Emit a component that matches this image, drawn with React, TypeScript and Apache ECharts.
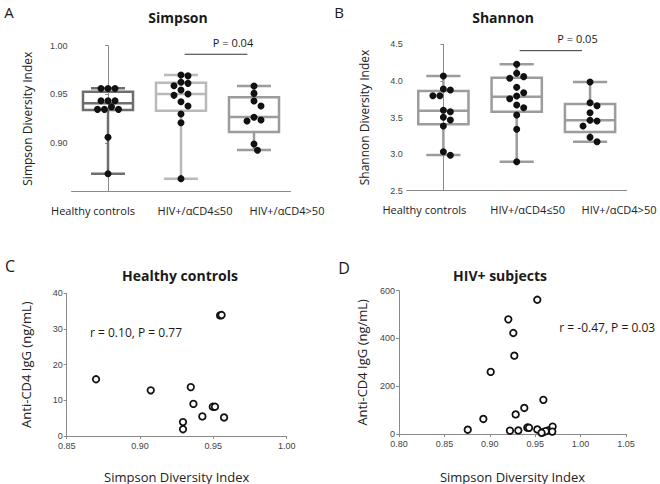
import React, { useEffect, useRef } from "react";
import * as echarts from "echarts";

const categories = ["Healthy controls", "HIV+/αCD4≤50", "HIV+/αCD4>50"];

// Panel A – Simpson diversity index per group
const simpsonHealthy = [0.956, 0.956, 0.956, 0.9435, 0.9435, 0.9435, 0.9373, 0.9346, 0.9346, 0.9346, 0.906, 0.8685];
const simpsonLow = [0.9699, 0.969, 0.9624, 0.9613, 0.9589, 0.9545, 0.9504, 0.949, 0.9425, 0.938, 0.9298, 0.9209, 0.8634];
const simpsonHigh = [0.9586, 0.951, 0.9432, 0.938, 0.9264, 0.9237, 0.9226, 0.899, 0.8925];
// [min, Q1, median, Q3, max]
const simpsonBoxHealthy = [0.8685, 0.934, 0.9408, 0.9527, 0.9562];
const simpsonBoxLow = [0.8634, 0.9332, 0.9504, 0.962, 0.9699];
const simpsonBoxHigh = [0.8928, 0.9113, 0.9267, 0.947, 0.9586];

// Panel B – Shannon diversity index per group
const shannonHealthy = [4.067, 3.889, 3.876, 3.798, 3.798, 3.598, 3.579, 3.503, 3.466, 3.384, 3.033, 2.984];
const shannonLow = [4.227, 4.104, 4.058, 4.036, 3.912, 3.839, 3.794, 3.757, 3.671, 3.634, 3.534, 3.339, 2.896];
const shannonHigh = [3.985, 3.702, 3.661, 3.566, 3.462, 3.452, 3.384, 3.229, 3.169];
const shannonBoxHealthy = [2.988, 3.407, 3.593, 3.862, 4.067];
const shannonBoxLow = [2.896, 3.579, 3.784, 4.044, 4.227];
const shannonBoxHigh = [3.169, 3.302, 3.462, 3.684, 3.985];

// Significance brackets: [fromCategory, toCategory, level]
const bracketA = [1.05, 1.91, 0.9912];
const bracketB = [1.04, 1.89, 4.413];

// Panel C – healthy controls
const healthySimpson = [0.87, 0.9073, 0.9346, 0.9364, 0.9425, 0.9496, 0.9511, 0.9573, 0.9293, 0.9293, 0.9546, 0.9556];
const healthyAntiCD4 = [15.9, 12.8, 13.7, 9.0, 5.5, 8.2, 8.2, 5.2, 3.9, 1.9, 33.8, 33.9];

// Panel D – HIV+ subjects
const hivSimpson = [0.9523, 0.9204, 0.9259, 0.927, 0.901, 0.959, 0.938, 0.9285, 0.8929, 0.8757, 0.9222, 0.9314, 0.9413, 0.9432, 0.9523, 0.959, 0.9644, 0.9692, 0.9688, 0.9615, 0.957];
const hivAntiCD4 = [562, 480, 423, 328, 260, 143, 109, 82, 63, 18, 14, 15, 27, 26, 19, 8, 15, 31, 10, 12, 5];

const yTicksA = [0.85, 0.9, 0.95, 1.0];
const yTicksB = [2.5, 3.0, 3.5, 4.0, 4.5];

const FONT = "'Open Sans', 'Noto Sans', sans-serif";
const TICKFONT = "'Liberation Sans', Arial, sans-serif";
const AXIS = "#8a8a8a";

const gridA = { left: 71.5, top: 45.7, width: 219, height: 146 };
const gridB = { left: 406.7, top: 44.3, width: 220, height: 146.4 };
const gridC = { left: 66.7, top: 293.3, width: 220, height: 147 };
const gridD = { left: 399, top: 290.7, width: 227, height: 147 };

// horizontal label shifts (px) of the category labels, as laid out in the original
const labelShiftA = [-15, 14, 33];
const labelShiftB = [-19, 11, 29];

const DOT = 7;

function swarm(values: number[], cat: number, pxPerY: number, pxPerCat: number) {
  const placed: { x: number; y: number }[] = [];
  const out: number[][] = [];
  const order = values.map((_, i) => i).sort((a, b) => values[b] - values[a]);
  const step = DOT / 2;
  for (const i of order) {
    const py = values[i] * pxPerY;
    let k = 0;
    let px = 0;
    for (;;) {
      const m = Math.ceil(k / 2);
      px = k === 0 ? 0 : (k % 2 === 1 ? m : -m) * step;
      const hit = placed.some((p) => Math.hypot(p.x - px, p.y - py) < DOT - 0.3);
      if (!hit) break;
      k++;
    }
    placed.push({ x: px, y: py });
    out.push([cat + px / pxPerCat, values[i]]);
  }
  return out;
}

function boxSeries(xi: number, boxes: number[][], colors: string[]) {
  return {
    type: "custom",
    xAxisIndex: xi,
    yAxisIndex: xi,
    silent: true,
    data: boxes.map((b, i) => [i, ...b]),
    renderItem: (params: any, api: any) => {
      const x = api.value(0);
      const lo = api.coord([x, api.value(1)]);
      const q1 = api.coord([x, api.value(2)]);
      const md = api.coord([x, api.value(3)]);
      const q3 = api.coord([x, api.value(4)]);
      const hi = api.coord([x, api.value(5)]);
      const band = api.size([1, 0])[0];
      const bw = band * 0.685;
      const cw = band * 0.466;
      const c = colors[params.dataIndex];
      const st = { stroke: c, lineWidth: 2.5, fill: "none" };
      const cx = lo[0];
      return {
        type: "group",
        children: [
          { type: "line", shape: { x1: cx, y1: lo[1], x2: cx, y2: q1[1] }, style: st },
          { type: "line", shape: { x1: cx, y1: q3[1], x2: cx, y2: hi[1] }, style: st },
          { type: "line", shape: { x1: cx - cw / 2, y1: lo[1], x2: cx + cw / 2, y2: lo[1] }, style: st },
          { type: "line", shape: { x1: cx - cw / 2, y1: hi[1], x2: cx + cw / 2, y2: hi[1] }, style: st },
          { type: "rect", shape: { x: cx - bw / 2, y: q3[1], width: bw, height: q1[1] - q3[1] }, style: st },
          { type: "line", shape: { x1: cx - bw / 2, y1: md[1], x2: cx + bw / 2, y2: md[1] }, style: st },
        ],
      };
    },
    z: 2,
  };
}

function dotSeries(xi: number, data: number[][]) {
  return {
    type: "scatter",
    xAxisIndex: xi,
    yAxisIndex: xi,
    symbolSize: DOT,
    itemStyle: { color: "#111", opacity: 1 },
    silent: true,
    data,
    z: 5,
  };
}

function bracketSeries(xi: number, b: number[]) {
  return {
    type: "line",
    xAxisIndex: xi,
    yAxisIndex: xi,
    symbol: "none",
    silent: true,
    lineStyle: { color: "#333", width: 1 },
    data: [
      [b[0], b[2]],
      [b[1], b[2]],
    ],
  };
}

function openScatter(xi: number, xs: number[], ys: number[]) {
  return {
    type: "scatter",
    xAxisIndex: xi,
    yAxisIndex: xi,
    symbolSize: 6.5,
    silent: true,
    itemStyle: { color: "#fff", borderColor: "#111", borderWidth: 1.8, opacity: 1 },
    data: xs.map((x, i) => [x, ys[i]]),
  };
}

const catAxis = (grid: number, margin: number, shifts: number[]) => ({
  type: "category",
  gridIndex: grid,
  data: categories.map((c, i) => ({
    value: c,
    textStyle: {
      padding: shifts[i] >= 0 ? [0, 0, 0, 2 * shifts[i]] : [0, -2 * shifts[i], 0, 0],
    },
  })),
  axisLine: { lineStyle: { color: AXIS, width: 1 } },
  axisTick: { alignWithLabel: true, length: 4, lineStyle: { color: AXIS } },
  axisLabel: { interval: 0, margin, fontFamily: FONT, fontSize: 11, color: "#222" },
});

const hiddenCat = (grid: number) => ({
  type: "value",
  gridIndex: grid,
  min: -0.5,
  max: 2.5,
  show: false,
  splitLine: { show: false },
});

const valAxis = (grid: number, o: any) => ({
  type: "value",
  gridIndex: grid,
  axisLine: { show: true, lineStyle: { color: AXIS, width: 1 } },
  axisTick: { show: true, length: 3, lineStyle: { color: AXIS } },
  splitLine: { show: false },
  axisLabel: { margin: 4, fontFamily: TICKFONT, fontSize: 9, color: "#444" },
  nameLocation: "middle",
  nameTextStyle: { fontFamily: FONT, fontSize: 12, color: "#222" },
  ...o,
});

const txt = (text: string, x: number, y: number, font: string, lh: number, align = "center") => ({
  type: "text",
  x,
  y,
  silent: true,
  style: {
    text,
    font,
    lineHeight: lh,
    fill: "#1a1a1a",
    textAlign: align,
    textVerticalAlign: "middle",
    align,
    verticalAlign: "middle",
  },
});

export default function App() {
  const ref = useRef<HTMLDivElement>(null);
  useEffect(() => {
    if (!ref.current) return;
    const chart = echarts.init(ref.current, undefined, { renderer: "svg" });
    const pyA = gridA.height / 0.15;
    const pcA = gridA.width / 3;
    const pyB = gridB.height / 2.0;
    const pcB = gridB.width / 3;

    const xName = { fontFamily: FONT, fontSize: 13, color: "#222" };
    const xLab = { margin: 5, fontFamily: TICKFONT, fontSize: 9, color: "#444", formatter: (v: number) => v.toFixed(2) };

    const option: any = {
      animation: false,
      backgroundColor: "#fff",
      grid: [gridA, gridB, gridC, gridD].map((g) => ({ ...g, containLabel: false })),
      xAxis: [
        catAxis(0, 13, labelShiftA),
        catAxis(1, 13, labelShiftB),
        valAxis(2, { min: 0.85, max: 1.0, interval: 0.05, name: "Simpson Diversity Index", nameGap: 34, nameTextStyle: xName, axisLabel: xLab }),
        valAxis(3, { min: 0.8, max: 1.05, interval: 0.05, name: "Simpson Diversity Index", nameGap: 36, nameTextStyle: xName, axisLabel: xLab }),
        hiddenCat(0),
        hiddenCat(1),
      ],
      yAxis: [
        valAxis(0, {
          min: yTicksA[0],
          max: yTicksA[yTicksA.length - 1],
          interval: 0.05,
          name: "Simpson Diversity Index",
          nameGap: 38,
          axisLabel: {
            margin: 4,
            fontFamily: TICKFONT,
            fontSize: 9,
            color: "#444",
            formatter: (v: number) => (Math.abs(v - yTicksA[0]) < 1e-6 ? "" : v.toFixed(2)),
          },
        }),
        valAxis(1, {
          min: yTicksB[0],
          max: yTicksB[yTicksB.length - 1],
          interval: 0.5,
          name: "Shannon Diversity Index",
          nameGap: 36,
          axisLabel: { margin: 4, fontFamily: TICKFONT, fontSize: 9, color: "#444", formatter: (v: number) => v.toFixed(1) },
        }),
        valAxis(2, { min: 0, max: 40, interval: 10, name: "Anti-CD4 IgG (ng/mL)", nameGap: 34, nameTextStyle: xName }),
        valAxis(3, { min: 0, max: 600, interval: 200, name: "Anti-CD4 IgG (ng/mL)", nameGap: 31, nameTextStyle: xName }),
        { ...valAxis(0, { min: 0.85, max: 1.0 }), show: false },
        { ...valAxis(1, { min: 2.5, max: 4.5 }), show: false },
      ],
      series: [
        boxSeries(0, [simpsonBoxHealthy, simpsonBoxLow, simpsonBoxHigh], ["#6e6e6e", "#b9b9b9", "#9c9c9c"]),
        boxSeries(1, [shannonBoxHealthy, shannonBoxLow, shannonBoxHigh], ["#9c9c9c", "#9c9c9c", "#9c9c9c"]),
        dotSeries(4, [
          ...swarm(simpsonHealthy, 0, pyA, pcA),
          ...swarm(simpsonLow, 1, pyA, pcA),
          ...swarm(simpsonHigh, 2, pyA, pcA),
        ]),
        dotSeries(5, [
          ...swarm(shannonHealthy, 0, pyB, pcB),
          ...swarm(shannonLow, 1, pyB, pcB),
          ...swarm(shannonHigh, 2, pyB, pcB),
        ]),
        bracketSeries(4, bracketA),
        bracketSeries(5, bracketB),
        openScatter(2, healthySimpson, healthyAntiCD4),
        openScatter(3, hivSimpson, hivAntiCD4),
      ],
      graphic: [
        txt("A", 9, 11.5, `15px ${FONT}`, 16),
        txt("B", 339, 11.5, `15px ${FONT}`, 16),
        txt("C", 10, 266, `16px ${FONT}`, 17),
        txt("D", 344, 267.5, `16px ${FONT}`, 17),
        txt("Simpson", 178, 17, `bold 14px ${FONT}`, 18),
        txt("Shannon", 503, 17, `bold 14px ${FONT}`, 18),
        txt("Healthy controls", 180, 275, `bold 14px ${FONT}`, 18),
        txt("HIV+ subjects", 500, 275, `bold 14px ${FONT}`, 18),
        txt("P = 0.04", 233, 42.7, `11px ${FONT}`, 14),
        txt("P = 0.05", 577.5, 38.3, `11px ${FONT}`, 14),
        txt("r = 0.10, P = 0.77", 90, 332.3, `12px ${FONT}`, 15, "left"),
        txt("r = -0.47, P = 0.03", 559.3, 327.3, `12px ${FONT}`, 15, "left"),
      ],
    };
    chart.setOption(option);
    return () => chart.dispose();
  }, []);
  return (
    <div
      ref={ref}
      style={{ position: "absolute", left: 0, top: 0, width: 660, height: 484, background: "#fff" }}
    />
  );
}
